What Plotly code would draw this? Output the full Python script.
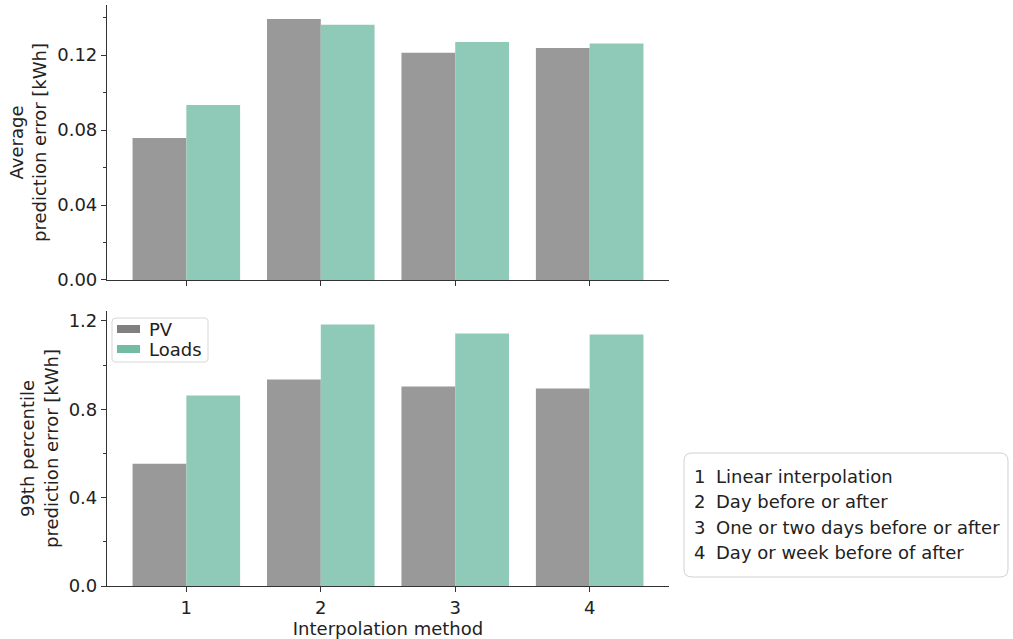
import plotly.graph_objects as go
from plotly.subplots import make_subplots

methods = [1, 2, 3, 4]
method_labels = ["Linear interpolation", "Day before or after",
                 "One or two days before or after", "Day or week before of after"]
series_names = ["PV", "Loads"]

avg_pv = [0.0757, 0.1392, 0.1212, 0.1238]
avg_loads = [0.0934, 0.1362, 0.1270, 0.1261]
p99_pv = [0.553, 0.935, 0.903, 0.894]
p99_loads = [0.862, 1.184, 1.143, 1.139]

PV_BAR = "#999999"
LOADS_BAR = "#8fc9b7"
KEY_COLORS = ["#808080", "#73bba5"]
FONT = "DejaVu Sans"
FS = 18
TXT = "#222222"

W, H = 1013, 639
ml, mr, mt, mb = 107, 1013 - 669, 5, 53
pw, ph = W - ml - mr, H - mt - mb


def px(x):
    return (x - ml) / pw


def py(y):
    return (H - mb - y) / ph


def rounded_box(x0, y0, x1, y1, r):
    pts = [("M", x0 + r, y0), ("L", x1 - r, y0), ("Q", x1, y0, x1, y0 + r), ("L", x1, y1 - r),
           ("Q", x1, y1, x1 - r, y1), ("L", x0 + r, y1), ("Q", x0, y1, x0, y1 - r),
           ("L", x0, y0 + r), ("Q", x0, y0, x0 + r, y0)]
    out = []
    for p in pts:
        cmd, coords = p[0], p[1:]
        xy = [f"{px(coords[i]):.5f},{py(coords[i + 1]):.5f}" for i in range(0, len(coords), 2)]
        out.append(cmd + " " + " ".join(xy))
    return " ".join(out) + " Z"


fig = make_subplots(rows=2, cols=1, vertical_spacing=0.0534)

for row, (pv, ld) in enumerate([(avg_pv, avg_loads), (p99_pv, p99_loads)], start=1):
    fig.add_trace(go.Bar(x=methods, y=pv, name="PV", offset=-0.4, width=0.4,
                         marker_color=PV_BAR, marker_line_width=0), row=row, col=1)
    fig.add_trace(go.Bar(x=methods, y=ld, name="Loads", offset=0.0, width=0.4,
                         marker_color=LOADS_BAR, marker_line_width=0), row=row, col=1)

axis_common = dict(showline=True, linecolor="#333333", linewidth=1.2, ticks="outside",
                   ticklen=5, tickcolor="#333333", showgrid=False, zeroline=False,
                   tickfont=dict(family=FONT, size=FS, color=TXT))

fig.update_xaxes(range=[0.41, 4.59], tickvals=methods, **axis_common)
fig.update_xaxes(showticklabels=False, row=1, col=1)
fig.update_xaxes(ticktext=[str(m) for m in methods], row=2, col=1,
                 title=dict(text="Interpolation method", font=dict(family=FONT, size=FS, color=TXT),
                            standoff=1))

fig.update_yaxes(range=[0, 0.1467], tickvals=[0, 0.04, 0.08, 0.12], tickformat=".2f",
                 minor=dict(ticks="outside", ticklen=3, tickcolor="#333333", dtick=0.02, tick0=0),
                 title=dict(text="Average<br>prediction error [kWh]",
                            font=dict(family=FONT, size=FS, color=TXT), standoff=5),
                 row=1, col=1, **axis_common)
fig.update_yaxes(range=[0, 1.245], tickvals=[0, 0.4, 0.8, 1.2], tickformat=".1f",
                 minor=dict(ticks="outside", ticklen=3, tickcolor="#333333", dtick=0.2, tick0=0),
                 title=dict(text="99th percentile<br>prediction error [kWh]",
                            font=dict(family=FONT, size=FS, color=TXT), standoff=5),
                 row=2, col=1, **axis_common)

# series key inside the lower panel
fig.add_shape(type="path", xref="paper", yref="paper", path=rounded_box(112, 318, 208, 362, 4),
              line=dict(color="#d6d6d6", width=1), fillcolor="white", layer="above")
for name, col, yc in zip(series_names, KEY_COLORS, [329, 349]):
    fig.add_shape(type="rect", xref="paper", yref="paper", x0=px(117), x1=px(140),
                  y0=py(yc - 4), y1=py(yc + 4), fillcolor=col, line_width=0, layer="above")
    fig.add_annotation(x=px(147), y=py(yc), xref="paper", yref="paper", text=name,
                       showarrow=False, xanchor="left", yanchor="middle",
                       font=dict(family=FONT, size=FS, color=TXT))

# box listing the interpolation methods
fig.add_shape(type="path", xref="paper", yref="paper", path=rounded_box(684, 453, 1008, 577, 8),
              line=dict(color="#d0d0d0", width=1), fillcolor="white", layer="above")
for m, lab, yy in zip(methods, method_labels, [476, 501, 527, 552]):
    fig.add_annotation(x=px(692), y=py(yy), xref="paper", yref="paper", text=str(m),
                       showarrow=False, xanchor="left", yanchor="middle",
                       font=dict(family=FONT, size=FS, color=TXT))
    fig.add_annotation(x=px(714), y=py(yy), xref="paper", yref="paper", text=lab,
                       showarrow=False, xanchor="left", yanchor="middle",
                       font=dict(family=FONT, size=FS, color=TXT))

fig.update_layout(
    width=W, height=H, margin=dict(l=ml, r=mr, t=mt, b=mb),
    paper_bgcolor="white", plot_bgcolor="white", barmode="overlay", showlegend=False,
    font=dict(family=FONT, size=FS, color=TXT),
)

fig.write_html("out.html")
